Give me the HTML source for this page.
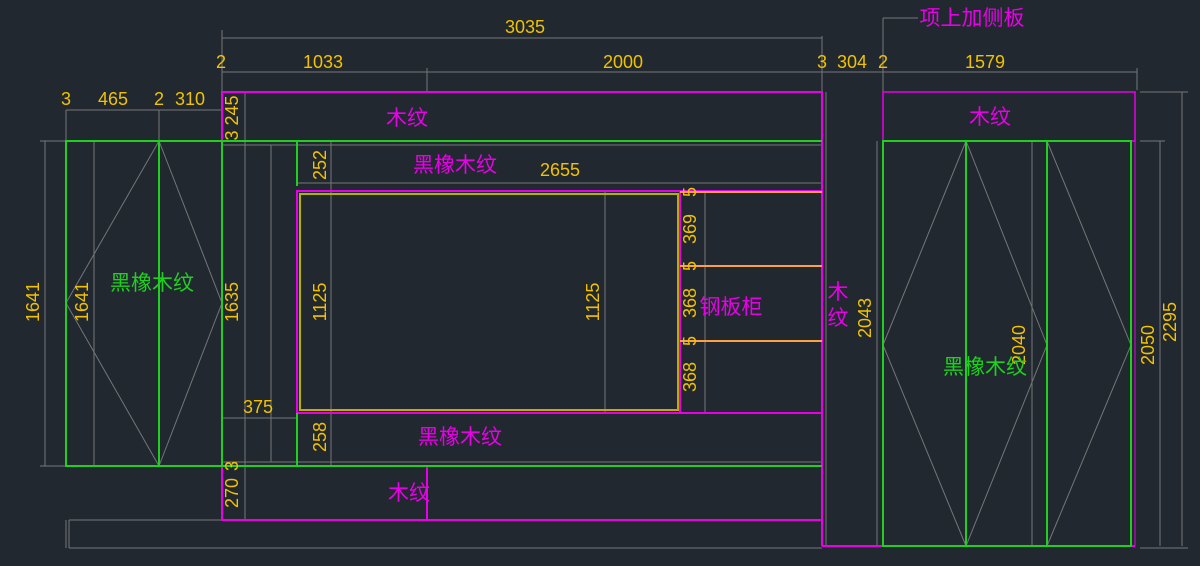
<!DOCTYPE html>
<html><head><meta charset="utf-8"><style>
html,body{margin:0;padding:0;background:#212830;width:1200px;height:566px;overflow:hidden}
svg{display:block}
text{font-family:"Liberation Sans","Noto Sans CJK SC",sans-serif}
.y{fill:#f2c200;font-size:18px}
.m{fill:#e800e8;font-size:21px}
.g{fill:#1fd01f;font-size:21px}
</style></head><body>
<svg width="1200" height="566" viewBox="0 0 1200 566">
<g stroke="#767676" stroke-width="1" fill="none">
<line x1="222" y1="38" x2="822" y2="38"/>
<line x1="222" y1="30" x2="222" y2="92"/>
<line x1="822" y1="36" x2="822" y2="92"/>
<line x1="222" y1="72" x2="1137" y2="72"/>
<line x1="427" y1="68" x2="427" y2="92"/>
<line x1="1137" y1="68" x2="1137" y2="90"/>
<line x1="66" y1="110" x2="222" y2="110"/>
<line x1="66" y1="110" x2="66" y2="140"/>
<line x1="159" y1="110" x2="159" y2="140"/>
<line x1="45" y1="141" x2="45" y2="466"/><line x1="40" y1="141" x2="66" y2="141"/><line x1="40" y1="466" x2="66" y2="466"/>
<line x1="94" y1="141" x2="94" y2="466"/>
<line x1="245" y1="92" x2="245" y2="520"/>
<line x1="271" y1="145" x2="271" y2="462"/>
<line x1="222" y1="145" x2="822" y2="145"/>
<line x1="222" y1="462" x2="822" y2="462"/>
<line x1="331" y1="141" x2="331" y2="466"/>
<line x1="297" y1="183" x2="822" y2="183"/>
<line x1="222" y1="418" x2="297" y2="418"/>
<line x1="605" y1="191" x2="605" y2="413"/>
<line x1="705" y1="191" x2="705" y2="413"/>
<line x1="69" y1="520" x2="822" y2="520"/>
<line x1="69" y1="548" x2="822" y2="548"/>
<line x1="69" y1="520" x2="69" y2="548"/><line x1="66" y1="520" x2="66" y2="548"/>
<line x1="826" y1="92" x2="826" y2="546"/>
<line x1="877" y1="141" x2="877" y2="546"/>
<line x1="883" y1="18" x2="918" y2="18"/><line x1="883" y1="18" x2="883" y2="141"/>
<line x1="1032" y1="141" x2="1032" y2="546"/>
<line x1="1160" y1="141" x2="1160" y2="546"/><line x1="1140" y1="141" x2="1165" y2="141"/>
<line x1="1182" y1="92" x2="1182" y2="546"/><line x1="1140" y1="92" x2="1188" y2="92"/>
<line x1="1140" y1="548" x2="1188" y2="548"/>
<polyline points="222,303 159,141 66,303 159,466 222,466"/>
<line x1="159" y1="466" x2="222" y2="303"/>
<polyline points="883,345 966,141 1047,345 966,546 883,345"/>
<polyline points="1047,141 1131,345 1047,546"/>
</g>
<g fill="none" stroke-width="2">
<rect x="222" y="92" width="600" height="49" stroke="#e800e8"/>
<rect x="222" y="466" width="600" height="54" stroke="#e800e8"/>
<line x1="427" y1="466" x2="427" y2="520" stroke="#e800e8"/>
<line x1="822" y1="92" x2="822" y2="546" stroke="#e800e8"/>
<line x1="822" y1="546" x2="1135" y2="546" stroke="#e800e8"/>
<rect x="883" y="92" width="252" height="49" stroke="#e800e8" stroke-width="1.5"/>
<rect x="297" y="191" width="525" height="222" stroke="#e800e8"/>
<line x1="680" y1="191" x2="680" y2="413" stroke="#e800e8"/>
<rect x="300" y="194" width="378" height="216" stroke="#b8b000"/>
<line x1="680" y1="192" x2="822" y2="192" stroke="#ffa040"/>
<line x1="680" y1="266" x2="822" y2="266" stroke="#ffa040"/>
<line x1="680" y1="341" x2="822" y2="341" stroke="#ffa040"/>
<rect x="66" y="141" width="156" height="325" stroke="#1fd01f"/>
<line x1="159" y1="141" x2="159" y2="466" stroke="#1fd01f"/>
<line x1="222" y1="141" x2="822" y2="141" stroke="#1fd01f"/>
<line x1="222" y1="466" x2="822" y2="466" stroke="#1fd01f"/>
<line x1="297" y1="141" x2="297" y2="186" stroke="#1fd01f"/>
<line x1="297" y1="413" x2="297" y2="466" stroke="#1fd01f"/>
<rect x="883" y="141" width="248" height="405" stroke="#1fd01f"/>
<line x1="966" y1="141" x2="966" y2="546" stroke="#1fd01f"/>
<line x1="1047" y1="141" x2="1047" y2="546" stroke="#1fd01f"/>
<line x1="1135" y1="92" x2="1135" y2="546" stroke="#e800e8" stroke-width="1"/>
</g>
<g class="y">
<text x="525" y="33" text-anchor="middle">3035</text>
<text x="221" y="68" text-anchor="middle">2</text>
<text x="323" y="68" text-anchor="middle">1033</text>
<text x="623" y="68" text-anchor="middle">2000</text>
<text x="822" y="68" text-anchor="middle">3</text>
<text x="852" y="68" text-anchor="middle">304</text>
<text x="883" y="68" text-anchor="middle">2</text>
<text x="985" y="68" text-anchor="middle">1579</text>
<text x="66" y="105" text-anchor="middle">3</text>
<text x="113" y="105" text-anchor="middle">465</text>
<text x="159" y="105" text-anchor="middle">2</text>
<text x="190" y="105" text-anchor="middle">310</text>
<text x="560" y="176" text-anchor="middle">2655</text>
<text x="258" y="413" text-anchor="middle">375</text>
<g text-anchor="middle">
<text transform="translate(39,302) rotate(-90)">1641</text>
<text transform="translate(88,302) rotate(-90)">1641</text>
<text transform="translate(238,302) rotate(-90)">1635</text>
<text transform="translate(238,118) rotate(-90)">3 245</text>
<text transform="translate(238,466) rotate(-90)">3</text>
<text transform="translate(238,493) rotate(-90)">270</text>
<text transform="translate(326,165) rotate(-90)">252</text>
<text transform="translate(326,437) rotate(-90)">258</text>
<text transform="translate(326,302) rotate(-90)">1125</text>
<text transform="translate(599,302) rotate(-90)">1125</text>
<text transform="translate(696,192) rotate(-90)">5</text>
<text transform="translate(696,229) rotate(-90)">369</text>
<text transform="translate(696,266) rotate(-90)">5</text>
<text transform="translate(696,303) rotate(-90)">368</text>
<text transform="translate(696,341) rotate(-90)">5</text>
<text transform="translate(696,377) rotate(-90)">368</text>
<text transform="translate(871,318) rotate(-90)">2043</text>
<text transform="translate(1025,345) rotate(-90)">2040</text>
<text transform="translate(1154,345) rotate(-90)">2050</text>
<text transform="translate(1176,322) rotate(-90)">2295</text>
</g>
</g>
<g class="m" text-anchor="middle">
<text x="407" y="125">木纹</text>
<text x="990" y="124">木纹</text>
<text x="409" y="500">木纹</text>
<text x="455" y="172">黑橡木纹</text>
<text x="460" y="444">黑橡木纹</text>
<text x="731" y="314">钢板柜</text>
<text x="838" y="299">木</text>
<text x="838" y="325">纹</text>
<text x="972" y="25">项上加侧板</text>
</g>
<g class="g" text-anchor="middle">
<text x="152" y="290">黑橡木纹</text>
<text x="985" y="374">黑橡木纹</text>
</g>
</svg>
</body></html>
